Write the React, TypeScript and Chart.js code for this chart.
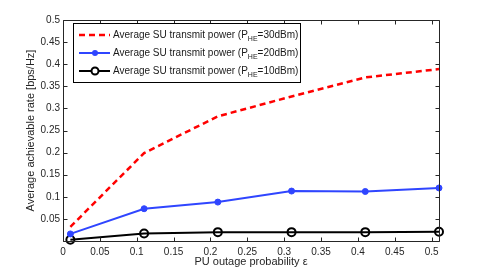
import React, { useEffect, useRef } from "react";
import { Chart, registerables } from "chart.js";

Chart.register(...registerables);

const xValues = [0.01, 0.11, 0.21, 0.31, 0.41, 0.51];
const series30 = [0.032, 0.199, 0.282, 0.327, 0.37, 0.389];
const series20 = [0.016, 0.073, 0.088, 0.113, 0.112, 0.12];
const series10 = [0.003, 0.017, 0.02, 0.02, 0.02, 0.021];
const xTicks = [0, 0.05, 0.1, 0.15, 0.2, 0.25, 0.3, 0.35, 0.4, 0.45, 0.5];
const yTicks = [0, 0.05, 0.1, 0.15, 0.2, 0.25, 0.3, 0.35, 0.4, 0.45, 0.5];
const legendLabels = [
  { pre: "Average SU transmit power (P", sub: "HE", post: "=30dBm)" },
  { pre: "Average SU transmit power (P", sub: "HE", post: "=20dBm)" },
  { pre: "Average SU transmit power (P", sub: "HE", post: "=10dBm)" },
];

const FONT = "Liberation Sans, Arial, sans-serif";
const RED = "#ff0000";
const BLUE = "#2f45ff";
const BLACK = "#000000";

const framePlugin = {
  id: "frame",
  afterDraw(chart: any) {
    const { ctx, chartArea } = chart;
    const { left, right, top, bottom } = chartArea;
    const xs = chart.scales.x;
    const ys = chart.scales.y;
    ctx.save();
    ctx.strokeStyle = "#262626";
    ctx.lineWidth = 1;
    const L = Math.round(left) + 0.5;
    const R = Math.round(right) + 0.5;
    const T = Math.round(top) + 0.5;
    const B = Math.round(bottom) + 0.5;
    ctx.beginPath();
    ctx.rect(L, T, R - L, B - T);
    ctx.stroke();
    const tl = 4;
    ctx.beginPath();
    xTicks.forEach((v) => {
      const px = Math.round(xs.getPixelForValue(v)) + 0.5;
      ctx.moveTo(px, B);
      ctx.lineTo(px, B - tl);
      ctx.moveTo(px, T);
      ctx.lineTo(px, T + tl);
    });
    yTicks.forEach((v) => {
      const py = Math.round(ys.getPixelForValue(v)) + 0.5;
      ctx.moveTo(L, py);
      ctx.lineTo(L + tl, py);
      ctx.moveTo(R, py);
      ctx.lineTo(R - tl, py);
    });
    ctx.stroke();

    // legend
    const bx = 73.5, by = 23.5, bw = 227, bh = 59;
    ctx.fillStyle = "#ffffff";
    ctx.fillRect(bx, by, bw, bh);
    ctx.strokeStyle = "#000";
    ctx.strokeRect(bx, by, bw, bh);
    const rows = [35, 53, 71];
    const styles = [
      { color: RED, dash: [6, 4], width: 2.5, marker: "none" },
      { color: BLUE, dash: [], width: 2, marker: "dot" },
      { color: BLACK, dash: [], width: 2, marker: "ring" },
    ];
    rows.forEach((ry, i) => {
      const s = styles[i];
      ctx.save();
      ctx.strokeStyle = s.color;
      ctx.lineWidth = s.width;
      ctx.setLineDash(s.dash);
      ctx.beginPath();
      ctx.moveTo(79, ry);
      ctx.lineTo(110, ry);
      ctx.stroke();
      ctx.setLineDash([]);
      if (s.marker === "dot") {
        ctx.fillStyle = s.color;
        ctx.beginPath();
        ctx.arc(95, ry, 3, 0, Math.PI * 2);
        ctx.fill();
      } else if (s.marker === "ring") {
        ctx.fillStyle = "#fff";
        ctx.lineWidth = 2;
        ctx.beginPath();
        ctx.arc(95, ry, 3.5, 0, Math.PI * 2);
        ctx.fill();
        ctx.stroke();
      }
      ctx.restore();
      const lab = legendLabels[i];
      ctx.fillStyle = "#1a1a1a";
      ctx.textBaseline = "middle";
      ctx.font = `10px ${FONT}`;
      let tx = 113;
      ctx.fillText(lab.pre, tx, ry);
      tx += ctx.measureText(lab.pre).width;
      ctx.font = `7px ${FONT}`;
      ctx.fillText(lab.sub, tx, ry + 4);
      tx += ctx.measureText(lab.sub).width;
      ctx.font = `10px ${FONT}`;
      ctx.fillText(lab.post, tx, ry);
    });
    ctx.restore();
  },
};

export default function App() {
  const ref = useRef<HTMLCanvasElement | null>(null);
  useEffect(() => {
    if (!ref.current) return;
    const mk = (vals: number[]) => xValues.map((x, i) => ({ x, y: vals[i] }));
    const chart = new Chart(ref.current, {
      type: "line",
      data: {
        datasets: [
          {
            label: "30",
            data: mk(series30),
            borderColor: RED,
            borderWidth: 2.5,
            borderDash: [6, 4],
            pointRadius: 0,
            fill: false,
            clip: false as any,
          },
          {
            label: "20",
            data: mk(series20),
            borderColor: BLUE,
            backgroundColor: BLUE,
            borderWidth: 2,
            pointRadius: 3,
            pointBackgroundColor: BLUE,
            pointBorderColor: BLUE,
            pointBorderWidth: 1,
            fill: false,
            clip: false as any,
          },
          {
            label: "10",
            data: mk(series10),
            borderColor: BLACK,
            borderWidth: 2,
            pointRadius: 4,
            pointBackgroundColor: "rgba(255,255,255,0)",
            pointBorderColor: BLACK,
            pointBorderWidth: 2,
            fill: false,
            clip: false as any,
          },
        ],
      },
      options: {
        responsive: false,
        animation: false,
        layout: { padding: { top: 20, right: 46, left: 0, bottom: 0 } },
        plugins: { legend: { display: false }, tooltip: { enabled: false } },
        elements: { line: { tension: 0 } },
        scales: {
          x: {
            type: "linear",
            min: 0,
            max: 0.51,
            afterBuildTicks: (s: any) => {
              s.ticks = xTicks.map((v) => ({ value: v }));
            },
            afterFit: (s: any) => {
              s.height = 30;
            },
            grid: { display: false, drawTicks: false },
            border: { display: false },
            ticks: {
              autoSkip: false,
              maxRotation: 0,
              padding: 5,
              color: "#262626",
              font: { family: FONT, size: 10 },
              callback: (v: any) => String(Math.round(Number(v) * 100) / 100),
            },
            title: {
              display: true,
              text: "PU outage probability ε",
              color: "#262626",
              font: { family: FONT, size: 11 },
              padding: { top: 0, bottom: 2 },
            },
          },
          y: {
            type: "linear",
            min: 0,
            max: 0.5,
            afterBuildTicks: (s: any) => {
              s.ticks = yTicks.map((v) => ({ value: v }));
            },
            afterFit: (s: any) => {
              s.width = 63;
            },
            grid: { display: false, drawTicks: false },
            border: { display: false },
            ticks: {
              autoSkip: false,
              padding: 3,
              color: "#262626",
              font: { family: FONT, size: 10 },
              callback: (v: any) => {
                const n = Math.round(Number(v) * 100) / 100;
                return n === 0 ? "" : String(n);
              },
            },
            title: {
              display: true,
              text: "Average achievable rate [bps/Hz]",
              color: "#262626",
              font: { family: FONT, size: 11 },
              padding: { top: 24, bottom: 0 },
            },
          },
        },
      },
      plugins: [framePlugin],
    });
    return () => chart.destroy();
  }, []);
  return (
    <div style={{ position: "fixed", left: 0, top: 0, width: 485, height: 271, background: "#fff" }}>
      <canvas ref={ref} width={485} height={271} style={{ display: "block" }} />
    </div>
  );
}
